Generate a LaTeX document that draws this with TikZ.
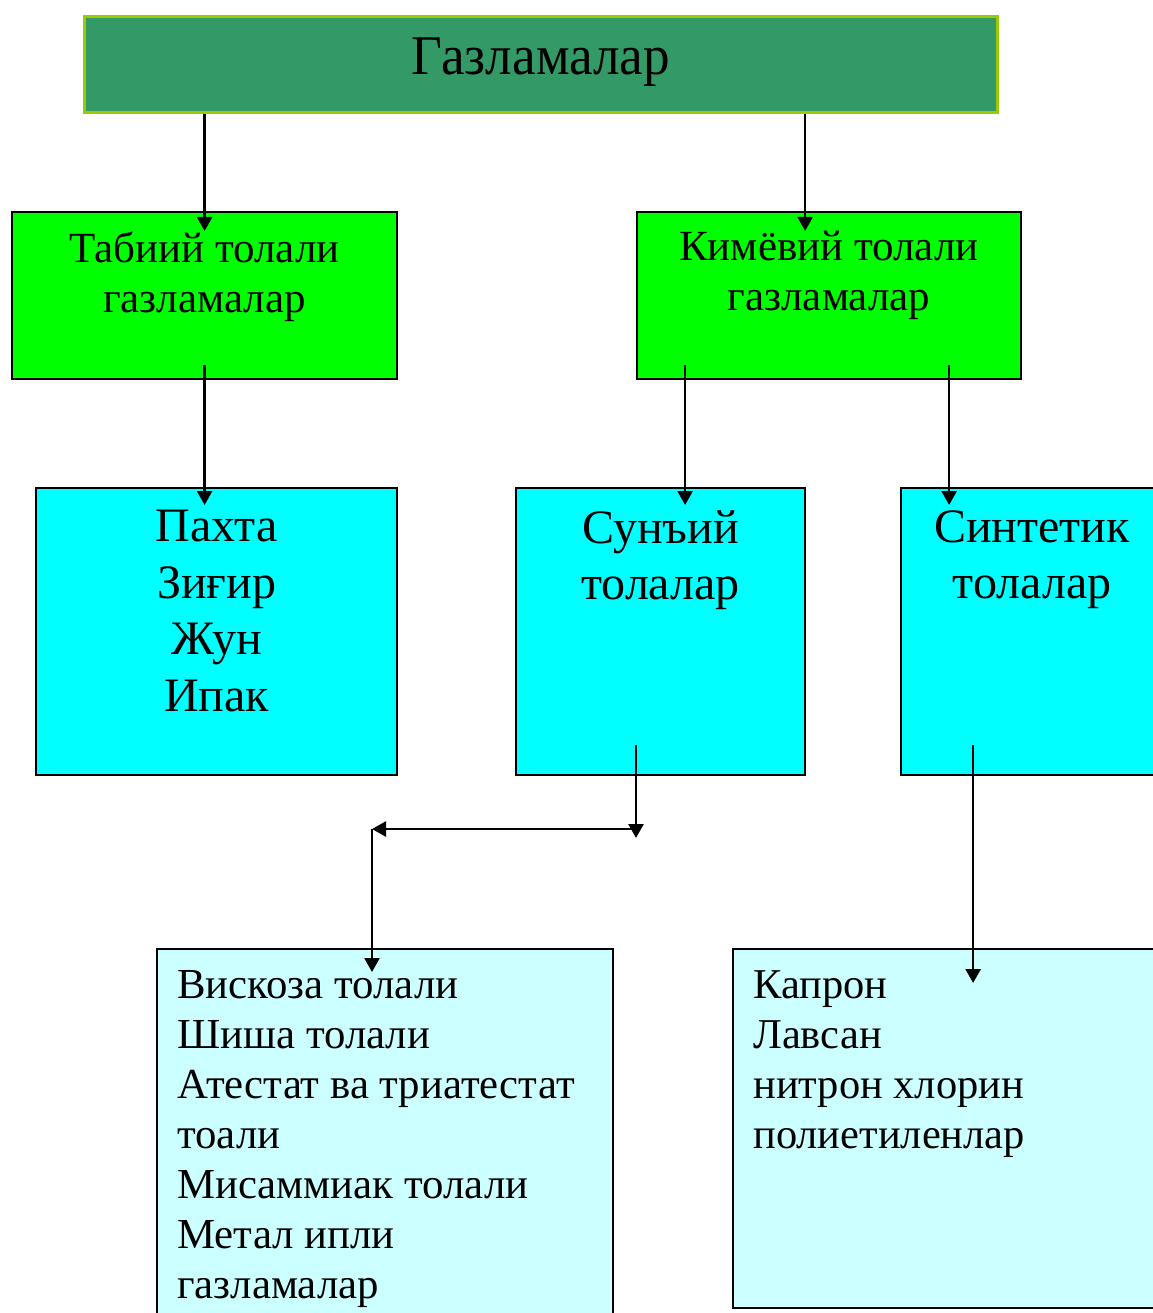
\documentclass[tikz,border=0pt]{standalone}
\usepackage{fontspec}
\setmainfont{Liberation Serif}
\newfontfamily\titlefont[FakeStretch=0.95]{Liberation Serif}
\usetikzlibrary{arrows.meta,positioning}
\definecolor{titlegreen}{HTML}{339966}
\definecolor{titleedge}{HTML}{99CC00}
\definecolor{lightgreen}{HTML}{00FF00}
\definecolor{aqua}{HTML}{00FFFF}
\definecolor{paleaqua}{HTML}{CCFFFF}

\begin{document}
\begin{tikzpicture}[x=1pt, y=-1pt, line width=2.6pt, >={Triangle[length=14pt,width=15pt]}]
  \tikzstyle{box}=[draw=black, line width=2.2pt, anchor=north west, inner sep=0pt]
  \tikzstyle{txt}=[inner sep=0pt, align=center]
  \tikzstyle{arr}=[->, line width=2.6pt]
  \useasboundingbox (0,0) rectangle (1152,1313);

  \node[box, fill=titlegreen, draw=titleedge, line width=3pt, minimum width=913pt, minimum height=96pt] (G) at (83,15) {};
  \node[box, fill=lightgreen, minimum width=385pt, minimum height=167pt] (T) at (11,211) {};
  \node[box, fill=lightgreen, minimum width=384pt, minimum height=167pt] (K) at (636,211) {};
  \node[box, fill=aqua, minimum width=361pt, minimum height=287pt] (P) at (35,487) {};
  \node[box, fill=aqua, minimum width=289pt, minimum height=287pt] (S) at (515,487) {};
  \node[box, fill=aqua, minimum width=262pt, minimum height=287pt] (N) at (900,487) {};
  \node[box, fill=paleaqua, minimum width=456pt, minimum height=380pt] (V) at (156,948) {};
  \node[box, fill=paleaqua, minimum width=430pt, minimum height=359pt] (L) at (732,948) {};

  % texts
  \node[txt, font=\titlefont\fontsize{56}{64}\selectfont] (Gt) at ([yshift=2pt]G.center) {Газламалар};
  \node[txt, anchor=north, font=\fontsize{43}{50}\selectfont] (Tt) at ([yshift=-19pt]T.north) {Табиий толали\\газламалар};
  \node[txt, anchor=north, font=\fontsize{43}{50}\selectfont] (Kt) at ([yshift=-19pt]K.north) {Кимёвий толали\\газламалар};
  \node[txt, anchor=north, font=\fontsize{48}{56.5}\selectfont] (Pt) at ([yshift=-22pt]P.north) {Пахта\\Зиғир\\Жун\\Ипак};
  \node[txt, anchor=north, font=\fontsize{48}{56.5}\selectfont] (St) at ([yshift=-22pt]S.north) {Сунъий\\толалар};
  \node[txt, anchor=north, font=\fontsize{48}{56.5}\selectfont] (Nt) at ([yshift=-22pt]N.north) {Синтетик\\толалар};
  \node[txt, anchor=north west, align=left, font=\fontsize{42.8}{50}\selectfont] (Vt) at ([xshift=20pt,yshift=-21pt]V.north west) {Вискоза толали\\Шиша толали\\Атестат ва триатестат\\тоали\\Мисаммиак толали\\Метал ипли\\газламалар};
  \node[txt, anchor=north west, align=left, font=\fontsize{42.5}{50}\selectfont] (Lt) at ([xshift=20pt,yshift=-21pt]L.north west) {Капрон\\Лавсан\\нитрон хлорин\\полиетиленлар};

  % connectors
  \draw[arr] (G.south -| T.north) -- ([yshift=-20pt]T.north);
  \draw[arr] ([xshift=-24pt]K.north |- G.south) -- ([xshift=-24pt,yshift=-20pt]K.north);
  \draw[arr] ([yshift=15pt]T.south) -- ([yshift=-18pt]T.south |- P.north);
  \draw[arr] ([xshift=-144pt,yshift=15pt]K.south) coordinate (k1) -- ([yshift=-18pt]k1 |- S.north);
  \draw[arr] ([xshift=120pt,yshift=15pt]K.south) coordinate (k2) -- ([yshift=-18pt]k2 |- N.north);
  \coordinate (fork) at (636,829);
  \coordinate (turn) at (372,829);
  \draw[arr] ([yshift=31pt]S.south -| fork) -- ([yshift=-9pt]fork);
  \draw[arr] (fork) -- (turn);
  \draw[arr] (turn) -- ([yshift=-24pt]V.north -| turn);
  \draw[arr] ([xshift=-59pt,yshift=31pt]N.south) coordinate (n1) -- ([yshift=-35pt]n1 |- L.north);
\end{tikzpicture}
\end{document}
